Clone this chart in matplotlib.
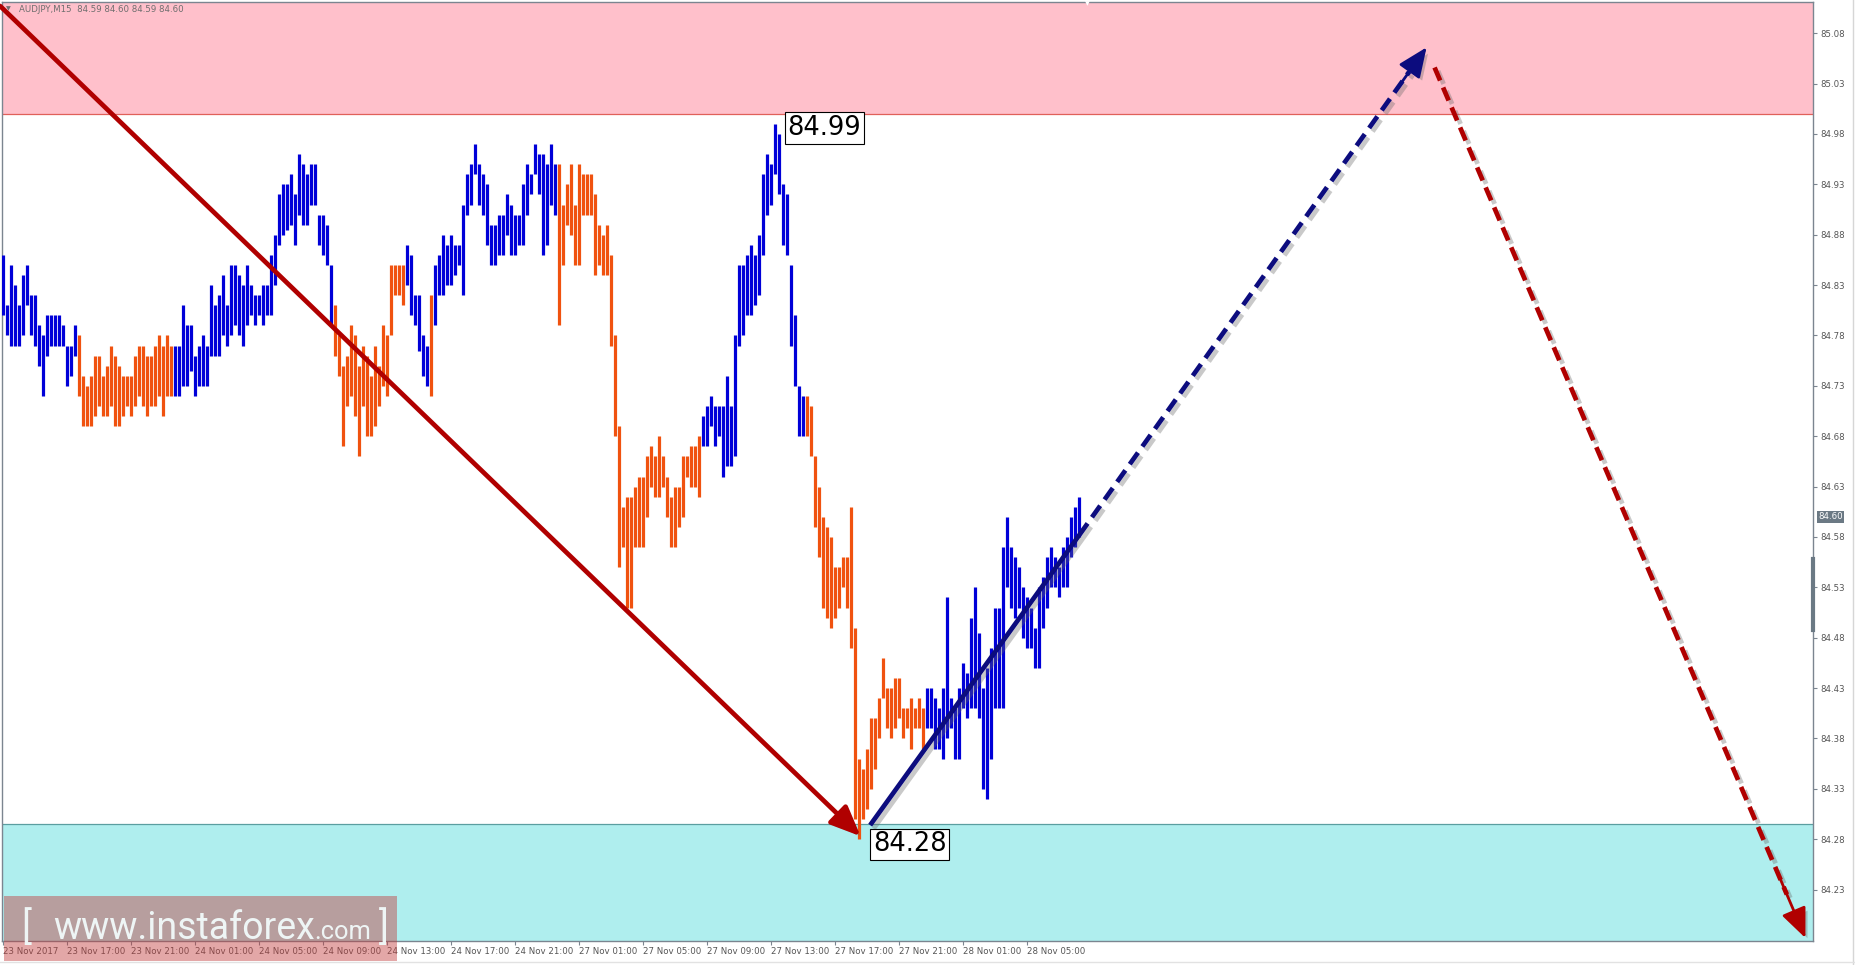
import matplotlib
matplotlib.use('Agg')
import matplotlib.pyplot as plt
import matplotlib.patheffects as pe
import matplotlib.transforms as mtransforms
from matplotlib import font_manager
from matplotlib.patches import Rectangle

W, H = 1856, 965

###### data ##############################
symbol_info = 'AUDJPY,M15  84.59 84.60 84.59 84.60'
last_price = 84.60

# high / low of every M15 bar, left to right
highs = [
    # 0-18 up wave
    84.86, 84.81, 84.85, 84.83, 84.81, 84.84, 84.85, 84.82, 84.82, 84.79, 84.78, 84.80, 84.80, 84.80, 84.80, 84.79, 84.77, 84.77, 84.79,
    # 19-42 down wave
    84.78, 84.74, 84.73, 84.74, 84.76, 84.76, 84.74, 84.75, 84.77, 84.76, 84.75, 84.74, 84.74, 84.74, 84.76, 84.77, 84.77, 84.76, 84.76, 84.77, 84.78, 84.77, 84.78, 84.77,
    # 43-82 up wave
    84.77, 84.77, 84.81, 84.79, 84.79, 84.76, 84.77, 84.78, 84.77, 84.83, 84.81, 84.82, 84.84, 84.81, 84.85, 84.85, 84.84, 84.83, 84.85, 84.83,
    84.82, 84.82, 84.83, 84.83, 84.86, 84.88, 84.92, 84.93, 84.93, 84.94, 84.92, 84.96, 84.95, 84.94, 84.95, 84.95, 84.90, 84.90, 84.89, 84.85,
    # 83-100 down wave
    84.81, 84.78, 84.75, 84.76, 84.79, 84.78, 84.75, 84.77, 84.76, 84.74, 84.77, 84.75, 84.79, 84.78, 84.85, 84.85, 84.85, 84.85,
    # 101-138 up wave
    84.87, 84.86, 84.82, 84.82, 84.78, 84.77, 84.82, 84.85, 84.86, 84.88, 84.87, 84.88, 84.87, 84.87, 84.91, 84.94, 84.95, 84.97, 84.95,
    84.94, 84.93, 84.89, 84.89, 84.90, 84.90, 84.92, 84.91, 84.90, 84.90, 84.93, 84.95, 84.94, 84.97, 84.96, 84.96, 84.95, 84.97, 84.95,
    # 139-174 down wave
    84.95, 84.91, 84.93, 84.95, 84.91, 84.95, 84.94, 84.94, 84.94, 84.92, 84.89, 84.88, 84.89, 84.86, 84.78, 84.69, 84.61, 84.62,
    84.62, 84.63, 84.64, 84.64, 84.66, 84.67, 84.66, 84.68, 84.66, 84.64, 84.62, 84.63, 84.63, 84.66, 84.66, 84.67, 84.67, 84.68,
    # 175-200 up wave
    84.70, 84.71, 84.72, 84.71, 84.71, 84.71, 84.74, 84.71, 84.78, 84.85, 84.85, 84.86, 84.87,
    84.86, 84.88, 84.94, 84.96, 84.95, 84.99, 84.98, 84.93, 84.92, 84.85, 84.80, 84.73, 84.72,
    # 201-230 down wave
    84.72, 84.71, 84.66, 84.63, 84.60, 84.59, 84.58, 84.55, 84.55, 84.56, 84.56, 84.61, 84.49, 84.36, 84.35,
    84.37, 84.40, 84.40, 84.42, 84.46, 84.43, 84.43, 84.44, 84.44, 84.41, 84.41, 84.42, 84.41, 84.42, 84.41,
    # 231-269 up wave
    84.43, 84.43, 84.42, 84.41, 84.43, 84.52, 84.42, 84.41, 84.43, 84.455, 84.445, 84.50, 84.53, 84.485, 84.43, 84.45, 84.47, 84.51, 84.51, 84.57,
    84.60, 84.57, 84.56, 84.55, 84.53, 84.52, 84.51, 84.49, 84.53, 84.54, 84.56, 84.57, 84.56, 84.55, 84.57, 84.58, 84.60, 84.61, 84.62,
]
lows = [
    84.80, 84.78, 84.77, 84.77, 84.77, 84.78, 84.81, 84.78, 84.77, 84.75, 84.72, 84.76, 84.77, 84.77, 84.77, 84.77, 84.73, 84.74, 84.76,
    84.72, 84.69, 84.69, 84.69, 84.70, 84.71, 84.70, 84.70, 84.71, 84.69, 84.69, 84.70, 84.71, 84.70, 84.71, 84.72, 84.71, 84.70, 84.71, 84.71, 84.72, 84.70, 84.72, 84.72,
    84.72, 84.72, 84.73, 84.73, 84.745, 84.72, 84.73, 84.73, 84.73, 84.76, 84.76, 84.76, 84.78, 84.77, 84.78, 84.79, 84.78, 84.77, 84.79, 84.80,
    84.79, 84.80, 84.79, 84.80, 84.80, 84.83, 84.87, 84.88, 84.885, 84.89, 84.87, 84.90, 84.89, 84.89, 84.91, 84.91, 84.87, 84.86, 84.85, 84.79,
    84.76, 84.74, 84.67, 84.71, 84.72, 84.70, 84.66, 84.71, 84.68, 84.68, 84.69, 84.71, 84.73, 84.72, 84.78, 84.82, 84.82, 84.81,
    84.83, 84.80, 84.79, 84.765, 84.74, 84.73, 84.72, 84.79, 84.82, 84.82, 84.83, 84.83, 84.84, 84.85, 84.82, 84.90, 84.91, 84.94, 84.91,
    84.90, 84.87, 84.85, 84.85, 84.86, 84.86, 84.88, 84.86, 84.86, 84.87, 84.87, 84.90, 84.92, 84.94, 84.92, 84.86, 84.87, 84.91, 84.90,
    84.79, 84.85, 84.89, 84.88, 84.85, 84.85, 84.90, 84.90, 84.90, 84.84, 84.85, 84.84, 84.84, 84.77, 84.68, 84.55, 84.57, 84.51,
    84.51, 84.57, 84.57, 84.57, 84.60, 84.63, 84.62, 84.62, 84.63, 84.60, 84.57, 84.57, 84.59, 84.60, 84.64, 84.63, 84.63, 84.62,
    84.67, 84.67, 84.69, 84.67, 84.68, 84.64, 84.65, 84.65, 84.66, 84.77, 84.78, 84.80, 84.80,
    84.81, 84.82, 84.86, 84.90, 84.91, 84.94, 84.92, 84.87, 84.86, 84.77, 84.73, 84.68, 84.68,
    84.68, 84.66, 84.59, 84.56, 84.51, 84.50, 84.49, 84.50, 84.51, 84.53, 84.51, 84.47, 84.30, 84.28, 84.30,
    84.31, 84.33, 84.35, 84.38, 84.42, 84.39, 84.38, 84.39, 84.40, 84.38, 84.39, 84.37, 84.39, 84.39, 84.37,
    84.39, 84.39, 84.37, 84.37, 84.36, 84.38, 84.39, 84.36, 84.36, 84.41, 84.40, 84.41, 84.41, 84.40, 84.33, 84.32, 84.36, 84.41, 84.41, 84.41,
    84.53, 84.51, 84.50, 84.51, 84.48, 84.47, 84.47, 84.45, 84.45, 84.49, 84.51, 84.53, 84.53, 84.52, 84.53, 84.53, 84.56, 84.57, 84.58,
]

# wave colouring: first bar of each run and whether it is an up run
seg_start = [0, 19, 43, 83, 101, 107, 108, 139, 175, 201, 231]
seg_up = [True, False, True, False, True, False, True, False, True, False, True]

time_labels = ['23 Nov 2017', '23 Nov 17:00', '23 Nov 21:00', '24 Nov 01:00', '24 Nov 05:00',
               '24 Nov 09:00', '24 Nov 13:00', '24 Nov 17:00', '24 Nov 21:00', '27 Nov 01:00',
               '27 Nov 05:00', '27 Nov 09:00', '27 Nov 13:00', '27 Nov 17:00', '27 Nov 21:00',
               '28 Nov 01:00', '28 Nov 05:00']
bars_per_label = 16

price_ticks = [85.08, 85.03, 84.98, 84.93, 84.88, 84.83, 84.78, 84.73, 84.68,
               84.63, 84.58, 84.53, 84.48, 84.43, 84.38, 84.33, 84.28, 84.23]

resistance_low = 85.00
support_high = 84.295

# extreme labels: text, bar index of box, price level of box centre
peak_text, peak_bar, peak_y = '84.99', 196, 84.986
trough_text, trough_bar, trough_y = '84.28', 217.4, 84.275

# wave lines (bar index, price)
wave_down = [(-0.8, 85.107), (214.3, 84.283)]
wave_up = [(216.7, 84.294), (269.0, 84.582)]
wave_up_fc = [(269.0, 84.582), (355.8, 85.066)]
wave_down_fc = [(357.8, 85.046), (450.5, 84.182)]
##########################

UP = '#0000D8'
DN = '#F0520F'
RED = '#B00000'
NAVY = '#0C0C7E'
GRID = '#7B8590'

fig = plt.figure(figsize=(W / 100, H / 100), dpi=100)
ax = fig.add_axes([2 / W, 1 - 941 / H, 1811 / W, 939 / H])
ax.set_xlim(-0.33, 452.4)
ax.set_ylim(84.179, 85.111)

# zones
ax.axhspan(resistance_low, 86, color='#FFC0CB', lw=0, zorder=0)
ax.axhline(resistance_low, color='#E0605A', lw=0.9, zorder=1)
ax.axhspan(83, support_high, color='#AFEEEE', lw=0, zorder=0)
ax.axhline(support_high, color='#5B9EA0', lw=0.9, zorder=1)

# bars
idx = list(range(len(highs)))
cols = []
for i in idx:
    k = max(j for j, s in enumerate(seg_start) if s <= i)
    cols.append(UP if seg_up[k] else DN)
ax.vlines(idx, lows, highs, colors=cols, linewidth=2.3, zorder=3)

shadow = [pe.SimpleLineShadow(offset=(2.5, -2.5), shadow_color='0.4', alpha=0.35), pe.Normal()]
pshadow = [pe.SimplePatchShadow(offset=(2.5, -2.5), shadow_rgbFace='0.4', alpha=0.35), pe.Normal()]
head = '-|>,head_length=0.7,head_width=0.3'


def along(p0, p1, f):
    return (p0[0] + (p1[0] - p0[0]) * f, p0[1] + (p1[1] - p0[1]) * f)


def dashed_arrow(pts, color):
    p0, p1 = pts
    pb = along(p0, p1, 0.95)
    ax.plot([p0[0], pb[0]], [p0[1], pb[1]], color=color, lw=3.4, dashes=(3, 1.6),
            solid_capstyle='butt', dash_capstyle='butt', path_effects=shadow, zorder=5)
    ax.annotate('', xy=p1, xytext=along(p0, p1, 0.93),
                arrowprops=dict(arrowstyle=head, mutation_scale=26, color=color, lw=2,
                                shrinkA=0, shrinkB=0, path_effects=pshadow), zorder=5)


# main down wave
ax.annotate('', xy=wave_down[1], xytext=wave_down[0],
            arrowprops=dict(arrowstyle=head, mutation_scale=26, color=RED, lw=3.4,
                            shrinkA=0, shrinkB=0, path_effects=pshadow), zorder=5)
# current up wave
ax.plot([p[0] for p in wave_up], [p[1] for p in wave_up], color=NAVY, lw=3.4,
        solid_capstyle='butt', path_effects=shadow, zorder=5)
dashed_arrow(wave_up_fc, NAVY)
dashed_arrow(wave_down_fc, RED)

# price labels
for txt, xb, yb in [(peak_text, peak_bar, peak_y), (trough_text, trough_bar, trough_y)]:
    ax.text(xb, yb, txt, fontsize=18.5, va='center', ha='left', color='black', zorder=7,
            bbox=dict(boxstyle='square,pad=0.1', fc='white', ec='black', lw=0.8))

# axes look
for s in ax.spines.values():
    s.set_color(GRID)
    s.set_linewidth(1)
ax.yaxis.tick_right()
ax.set_yticks(price_ticks)
ax.set_yticklabels(['%.2f' % p for p in price_ticks])
ax.tick_params(axis='y', length=3, width=0.8, color=GRID, labelsize=6.2, labelcolor='#555555', pad=2)
ax.set_xticks([k * bars_per_label for k in range(len(time_labels))])
ax.set_xticklabels(time_labels, ha='left')
ax.tick_params(axis='x', length=3, width=0.8, color=GRID, labelsize=6.2, labelcolor='#555555', pad=1)

# last price tag and scroll mark on the price scale
tr = mtransforms.blended_transform_factory(ax.transAxes, ax.transData)
ax.text(1.003, last_price, '%.2f' % last_price, transform=tr, fontsize=6.2, color='white',
        va='center', ha='left', clip_on=False,
        bbox=dict(boxstyle='square,pad=0.15', fc='#6B7984', ec='none'))
ax.plot([1.0, 1.0], [84.558, 84.488], transform=tr, color='#6B7984', lw=3, clip_on=False, zorder=6)

# header
fig.text(19 / W, 1 - 9 / H, symbol_info, fontsize=6.2, color='#6E6E6E', va='center', ha='left')
fig.text(6 / W, 1 - 9 / H, '\u25BC', fontsize=4.5, color='#6E6E6E', va='center', ha='left')
fig.text(1087 / W, 1 - 4 / H, '\u25BC', fontsize=4.5, color='white', va='center', ha='center')

# window frame lines
fig.add_artist(plt.Line2D([1853 / W, 1853 / W], [0, 1], color='#D6D6D6', lw=1))
fig.add_artist(plt.Line2D([0, 1], [1 - 962 / H, 1 - 962 / H], color='#E2E2E2', lw=1))

# watermark
fig.add_artist(Rectangle((4 / W, 1 - 961 / H), 393 / W, 65 / H, transform=fig.transFigure,
                         fc=(0.76, 0.24, 0.24), alpha=0.45, ec='none', zorder=10))


def has_font(name):
    try:
        font_manager.findfont(font_manager.FontProperties(family=name), fallback_to_default=False)
        return True
    except Exception:
        return False


if has_font('Liberation Sans Narrow'):
    wm_font, wm_size = 'Liberation Sans Narrow', 33
else:
    wm_font, wm_size = 'Roboto', 27
base = 1 - 939 / H
wm_col = '#EEF5F5'
r = fig.canvas.get_renderer()
fig.text(21 / W, base, '[', fontsize=wm_size, family=wm_font, color=wm_col, va='baseline', zorder=11)
t1 = fig.text(53 / W, base, 'www.instaforex', fontsize=wm_size, family=wm_font, color=wm_col,
              va='baseline', zorder=11)
bb = t1.get_window_extent(r)
t2 = fig.text(bb.x1 / W, base, '.com', fontsize=wm_size * 0.68, family=wm_font, color=wm_col,
              va='baseline', zorder=11)
bb2 = t2.get_window_extent(r)
fig.text(bb2.x1 / W + 7 / W, base, ']', fontsize=wm_size, family=wm_font, color=wm_col,
         va='baseline', zorder=11)

plt.savefig('out.png', dpi=100)
plt.close('all')
